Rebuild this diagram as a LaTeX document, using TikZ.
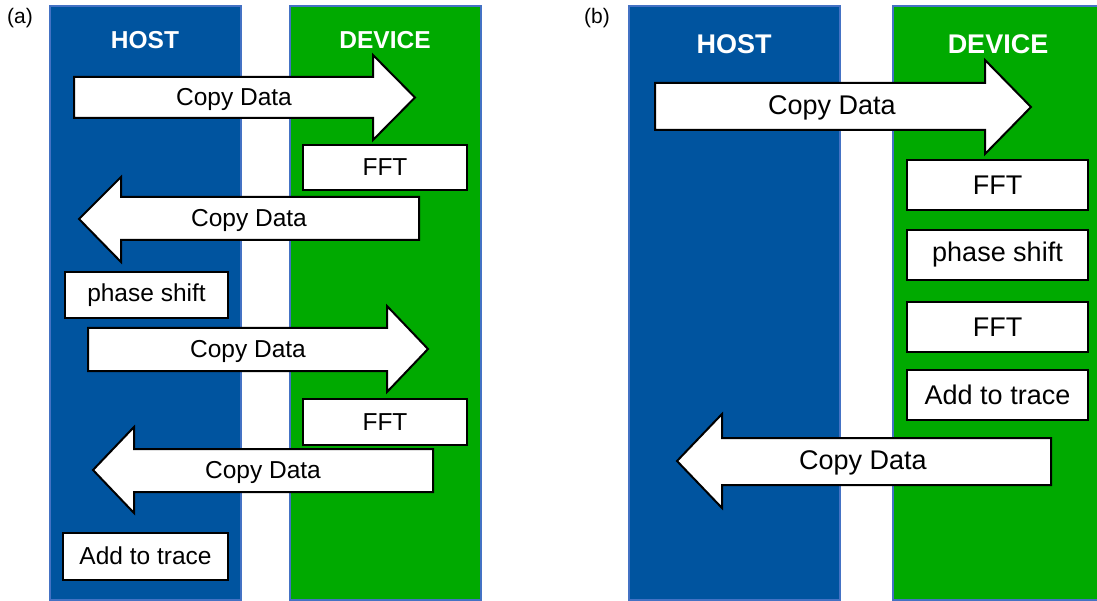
\documentclass[tikz,border=0pt]{standalone}
\usepackage{fontspec}
\setmainfont{Liberation Sans}
\usetikzlibrary{positioning}

\definecolor{hostblue}{RGB}{0,84,159}
\definecolor{devgreen}{RGB}{0,170,0}
\definecolor{edgeblue}{RGB}{68,114,196}

\begin{document}
\begin{tikzpicture}[x=1pt,y=-1pt,
    lane/.style={draw=edgeblue,line width=1.2pt},
    lanehead/.style={text=white},
    procbox/.style={draw=black,fill=white,line width=2pt,inner sep=0pt},
    xfer/.style={draw=black,fill=white,line width=2pt,line join=miter}]
  \useasboundingbox (0,0) rectangle (1097,601);

  % panel (a): host and device take turns
  \begin{scope}[font=\fontsize{24.5}{28}\selectfont]
    \node[font=\fontsize{21}{25}\selectfont] (lbl_a) at (20,18) {(a)};
    \filldraw[lane,fill=hostblue] (50,6) rectangle (241,600);
    \filldraw[lane,fill=devgreen] (290,6) rectangle (481,600);
    \node[lanehead] (host_a) at (145,40) {\bfseries HOST};
    \node[lanehead] (dev_a) at (385,40) {\bfseries DEVICE};

    \draw[xfer] (74,77) -- (373,77) -- (373,55) -- (415,97.5) -- (373,140)
      -- (373,118) -- (74,118) -- cycle;
    \node (copy_a1) at (234,99) {Copy Data};
    \node[procbox,minimum width=164pt,minimum height=45pt] (fft_a1) at (385,167.5) {FFT};

    \draw[xfer] (419,197) -- (121,197) -- (121,177) -- (79,219) -- (121,262)
      -- (121,240) -- (419,240) -- cycle;
    \node (copy_a2) at (249,220) {Copy Data};
    \node[procbox,minimum width=163pt,minimum height=46pt] (phase_a) at (146.5,295.5) {phase shift};

    \draw[xfer] (88,328) -- (387,328) -- (387,306) -- (428,349) -- (387,392)
      -- (387,371) -- (88,371) -- cycle;
    \node (copy_a3) at (248,351) {Copy Data};
    \node[procbox,minimum width=164pt,minimum height=46pt] (fft_a2) at (385,422) {FFT};

    \draw[xfer] (433,449) -- (134,449) -- (134,427) -- (93,470) -- (134,513)
      -- (134,492) -- (433,492) -- cycle;
    \node (copy_a4) at (263,472) {Copy Data};
    \node[procbox,minimum width=165pt,minimum height=47pt] (add_a) at (145.5,556) {Add to trace};
  \end{scope}

  % panel (b): everything stays on the device
  \begin{scope}[font=\fontsize{27}{32}\selectfont]
    \node[font=\fontsize{21}{25}\selectfont] (lbl_b) at (597,18) {(b)};
    \filldraw[lane,fill=hostblue] (629,6) rectangle (840,600);
    \filldraw[lane,fill=devgreen] (893,6) rectangle (1100,600);
    \node[lanehead] (host_b) at (734,44) {\bfseries HOST};
    \node[lanehead] (dev_b) at (998,44) {\bfseries DEVICE};

    \draw[xfer] (655,83) -- (985,83) -- (985,60) -- (1031,107) -- (985,154)
      -- (985,130) -- (655,130) -- cycle;
    \node (copy_b1) at (832,108) {Copy Data};

    \node[procbox,minimum width=181pt,minimum height=50pt] (fft_b1) at (997.5,185) {FFT};
    \node[procbox,minimum width=181pt,minimum height=50pt,below=18pt of fft_b1] (phase_b) {phase shift};
    \node[procbox,minimum width=181pt,minimum height=50pt,below=20pt of phase_b] (fft_b2) {FFT};
    \node[procbox,minimum width=181pt,minimum height=50pt,below=16pt of fft_b2] (add_b) {Add to trace};

    \draw[xfer] (1051,438) -- (722,438) -- (722,414) -- (677,461) -- (722,508)
      -- (722,485) -- (1051,485) -- cycle;
    \node (copy_b2) at (863,463) {Copy Data};
  \end{scope}
\end{tikzpicture}
\end{document}
